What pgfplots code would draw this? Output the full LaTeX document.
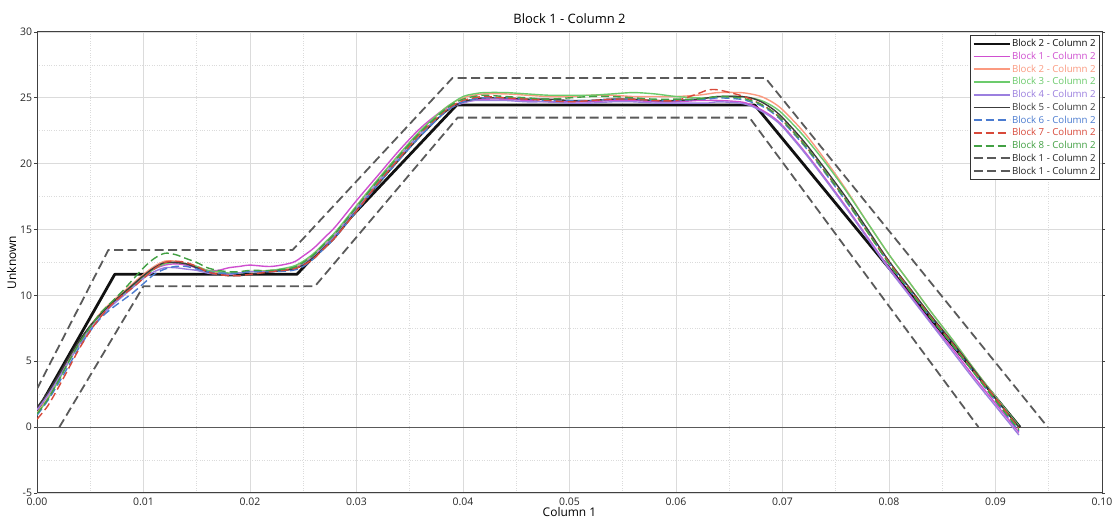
\documentclass[border=0pt]{standalone}
\usepackage{fontspec}
\setmainfont{Open Sans}
\usepackage{pgfplots}
\usepackage{pgfplotstable}
\pgfplotsset{compat=1.18}

\definecolor{cref}{HTML}{111111}
\definecolor{cA}{HTML}{CF4FD0}
\definecolor{cB}{HTML}{FB9A80}
\definecolor{cC}{HTML}{6CCB6C}
\definecolor{cD}{HTML}{9B7FDF}
\definecolor{cE}{HTML}{3C3C3C}
\definecolor{cF}{HTML}{4A7BD0}
\definecolor{cG}{HTML}{D8493A}
\definecolor{cH}{HTML}{42A043}
\definecolor{cenv}{HTML}{5A5A5A}

% reference profile and the two tolerance bands
\pgfplotstableread{
x y
0 1.2
0.0073 11.6
0.0244 11.6
0.0394 24.45
0.0674 24.45
0.0923 0
}\refline
\pgfplotstableread{
x y
0 2.9
0.0067 13.45
0.0240 13.45
0.0390 26.5
0.0684 26.5
0.0949 0
}\bandhi
\pgfplotstableread{
x y
0.0021 0
0.0100 10.7
0.0261 10.7
0.0395 23.5
0.0669 23.5
0.0884 0
}\bandlo

% measured runs, blocks 1..8
\pgfplotstableread{
x b1 b2 b3 b4 b5 b6 b7 b8
0 1.4 1.1 1.0 1.3 1.5 0.9 0.6 1.0
0.001 2.5 2.2 2.1 2.4 2.6 2.0 1.6 2.1
0.002 3.8 3.6 3.5 3.7 3.9 3.3 3.0 3.5
0.003 5.2 5.1 5.0 5.0 5.3 4.7 4.5 5.0
0.004 6.5 6.5 6.4 6.3 6.6 6.1 6.0 6.4
0.005 7.6 7.7 7.6 7.4 7.7 7.3 7.3 7.6
0.006 8.6 8.7 8.6 8.4 8.6 8.3 8.4 8.7
0.007 9.3 9.5 9.4 9.2 9.4 9.0 9.3 9.5
0.008 10.0 10.2 10.0 9.9 10.1 9.6 10.0 10.3
0.009 10.8 10.9 10.7 10.6 10.8 10.2 10.6 11.2
0.010 11.5 11.6 11.4 11.3 11.5 10.9 11.3 12.1
0.011 12.0 12.2 12.0 11.8 12.1 11.6 12.0 12.8
0.012 12.3 12.6 12.4 12.1 12.5 12.0 12.5 13.2
0.013 12.4 12.6 12.5 12.1 12.5 12.2 12.6 13.1
0.014 12.3 12.4 12.4 12.0 12.4 12.2 12.5 12.8
0.015 12.1 12.2 12.2 11.9 12.1 12.0 12.2 12.5
0.016 11.9 11.9 11.9 11.7 11.8 11.8 11.8 12.1
0.017 11.9 11.7 11.8 11.6 11.6 11.7 11.6 11.9
0.018 12.1 11.6 11.7 11.6 11.5 11.7 11.5 11.8
0.019 12.2 11.7 11.7 11.7 11.5 11.7 11.5 11.8
0.020 12.3 11.8 11.8 11.8 11.6 11.8 11.6 11.9
0.022 12.2 11.9 11.9 11.8 11.8 11.8 11.8 11.9
0.024 12.5 12.1 12.2 12.0 12.0 11.9 12.0 12.1
0.025 13.0 12.5 12.6 12.4 12.3 12.2 12.3 12.5
0.026 13.6 13.1 13.2 13.0 12.9 12.8 12.8 13.1
0.027 14.4 13.9 14.0 13.8 13.6 13.6 13.6 13.9
0.028 15.2 14.7 14.8 14.6 14.4 14.4 14.4 14.7
0.030 17.2 16.8 16.8 16.6 16.4 16.4 16.4 16.7
0.032 19.1 18.8 18.8 18.6 18.4 18.4 18.5 18.7
0.034 21.0 20.7 20.7 20.5 20.3 20.3 20.4 20.6
0.036 22.7 22.5 22.5 22.3 22.1 22.1 22.3 22.4
0.038 24.0 24.0 24.0 23.7 23.7 23.7 23.8 23.9
0.039 24.4 24.6 24.6 24.3 24.3 24.3 24.4 24.5
0.040 24.7 25.0 25.1 24.6 24.7 24.7 24.8 24.9
0.041 24.8 25.2 25.3 24.8 24.9 24.9 25.0 25.1
0.042 24.9 25.3 25.4 24.8 25.0 25.0 25.1 25.2
0.044 24.9 25.3 25.4 24.8 25.0 25.0 25.0 25.1
0.046 24.8 25.2 25.3 24.7 24.9 24.9 24.9 25.0
0.048 24.7 25.1 25.2 24.7 24.9 24.8 24.8 24.9
0.050 24.7 25.1 25.2 24.6 24.8 24.8 24.7 25.0
0.052 24.7 25.2 25.2 24.6 24.8 24.8 24.8 25.1
0.054 24.8 25.2 25.3 24.7 24.9 24.9 24.9 25.1
0.056 24.8 25.1 25.4 24.7 24.9 24.9 24.9 25.0
0.058 24.7 25.1 25.3 24.6 24.8 24.8 24.8 24.9
0.060 24.7 25.1 25.1 24.6 24.8 24.8 24.8 24.9
0.062 24.8 25.2 25.0 24.6 24.9 24.9 25.3 24.9
0.063 24.8 25.3 25.0 24.6 25.0 24.9 25.6 25.0
0.064 24.8 25.4 25.1 24.7 25.1 25.0 25.6 25.1
0.066 24.7 25.4 25.1 24.6 25.1 24.9 25.2 25.0
0.067 24.5 25.3 25.0 24.4 25.0 24.7 24.9 24.8
0.068 24.1 25.1 24.8 24.0 24.7 24.4 24.5 24.5
0.069 23.6 24.7 24.4 23.5 24.2 23.9 24.0 24.0
0.070 22.9 24.1 23.8 22.8 23.5 23.2 23.3 23.3
0.072 21.0 22.4 22.1 20.9 21.7 21.4 21.5 21.5
0.074 18.9 20.3 20.1 18.8 19.6 19.3 19.4 19.4
0.076 16.7 18.0 17.9 16.6 17.4 17.1 17.2 17.2
0.078 14.4 15.5 15.5 14.3 15.0 14.8 14.8 14.8
0.080 12.1 13.1 13.1 12.0 12.6 12.4 12.5 12.4
0.082 10.0 10.9 10.9 9.9 10.5 10.3 10.4 10.3
0.084 7.9 8.7 8.7 7.8 8.4 8.2 8.3 8.2
0.086 5.9 6.6 6.6 5.7 6.4 6.2 6.3 6.2
0.088 3.8 4.4 4.4 3.6 4.3 4.1 4.2 4.1
0.090 1.8 2.3 2.3 1.6 2.2 2.0 2.2 2.0
0.0922 -0.4 0.0 0.1 -0.6 0.0 -0.3 -0.1 -0.2
}\runs

\begin{document}
\begin{tikzpicture}
\begin{axis}[
    scale only axis,
    width=1065bp, height=461bp,
    xmin=0, xmax=0.1, ymin=-5, ymax=30,
    xtick={0,0.01,0.02,0.03,0.04,0.05,0.06,0.07,0.08,0.09,0.1},
    minor xtick={0.005,0.015,0.025,0.035,0.045,0.055,0.065,0.075,0.085,0.095},
    ytick={-5,0,5,10,15,20,25,30},
    minor ytick={-2.5,2.5,7.5,12.5,17.5,22.5,27.5},
    grid=both,
    major grid style={draw=black!14, line width=0.7bp},
    minor grid style={draw=black!14, dotted, line width=0.7bp},
    axis line style={draw=black!75, line width=1bp},
    tick align=outside,
    major tick length=3bp, minor tick length=0pt,
    tick style={draw=black!75, line width=0.7bp},
    xtick style={draw=none},
    scaled x ticks=false,
    xticklabel style={/pgf/number format/fixed, /pgf/number format/fixed zerofill,
        /pgf/number format/precision=2, yshift=1.5bp},
    /pgf/number format/assume math mode=true,
    ticklabel style={font=\fontsize{10.5}{12}\selectfont, text=black!85},
    yticklabel style={xshift=1.5bp},
    title={Block 1 - Column 2},
    title style={font=\fontsize{13}{15}\selectfont, yshift=-1bp},
    xlabel={Column 1}, ylabel={Unknown},
    label style={font=\fontsize{12}{14}\selectfont},
    xlabel style={yshift=5.5bp},
    ylabel style={yshift=-3bp},
    legend style={at={(1,1)}, anchor=north east, xshift=-2bp, yshift=-3bp,
        font=\fontsize{9.7}{11}\selectfont, draw=black!80, line width=0.7bp,
        inner sep=2.5bp, row sep=0.9bp, nodes={inner sep=1.5bp}},
    legend cell align=left,
    legend image code/.code={\draw[#1, line width=1.8bp] (0bp,0bp) -- (36bp,0bp);},
    every axis plot/.append style={line join=round},
]
\coordinate (bl) at (rel axis cs:0,0);
\coordinate (tr) at (rel axis cs:1,1);

\addplot[forget plot, draw=black!65, line width=1bp] coordinates {(0,0) (0.1,0)};

\addplot[cref, line width=2.8bp] table[x=x, y=y] {\refline};
\addlegendentry{\textcolor{cref}{Block 2 - Column 2}}
\addplot[cA, line width=1.4bp, smooth] table[x=x, y=b1] {\runs};
\addlegendentry{\textcolor{cA}{Block 1 - Column 2}}
\addplot[cB, line width=1.4bp, smooth] table[x=x, y=b2] {\runs};
\addlegendentry{\textcolor{cB}{Block 2 - Column 2}}
\addplot[cC, line width=1.4bp, smooth] table[x=x, y=b3] {\runs};
\addlegendentry{\textcolor{cC}{Block 3 - Column 2}}
\addplot[cD, line width=1.4bp, smooth] table[x=x, y=b4] {\runs};
\addlegendentry{\textcolor{cD}{Block 4 - Column 2}}
\addplot[cE, line width=1.4bp, smooth] table[x=x, y=b5] {\runs};
\addlegendentry{\textcolor{cE}{Block 5 - Column 2}}
\addplot[cF, line width=1.4bp, smooth, dash pattern=on 8bp off 4bp] table[x=x, y=b6] {\runs};
\addlegendentry{\textcolor{cF}{Block 6 - Column 2}}
\addplot[cG, line width=1.4bp, smooth, dash pattern=on 8bp off 4bp] table[x=x, y=b7] {\runs};
\addlegendentry{\textcolor{cG}{Block 7 - Column 2}}
\addplot[cH, line width=1.4bp, smooth, dash pattern=on 8bp off 4bp] table[x=x, y=b8] {\runs};
\addlegendentry{\textcolor{cH}{Block 8 - Column 2}}
\addplot[cenv, line width=1.8bp, dash pattern=on 9bp off 4.5bp] table[x=x, y=y] {\bandhi};
\addlegendentry{\textcolor{black!85}{Block 1 - Column 2}}
\addplot[cenv, line width=1.8bp, dash pattern=on 9bp off 4.5bp] table[x=x, y=y] {\bandlo};
\addlegendentry{\textcolor{black!85}{Block 1 - Column 2}}
\end{axis}
\pgfresetboundingbox
\path ([xshift=-37bp,yshift=-28bp]bl) rectangle ([xshift=15bp,yshift=32bp]tr);
\end{tikzpicture}
\end{document}
